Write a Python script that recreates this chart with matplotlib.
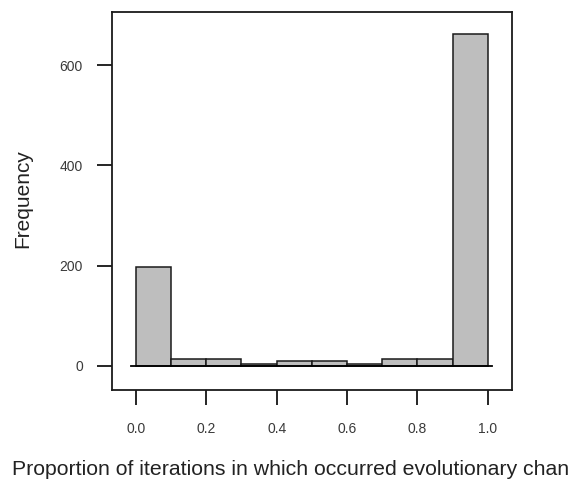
import numpy as np
import matplotlib.pyplot as plt

plt.rcParams['font.family'] = ['Liberation Sans', 'DejaVu Sans']

# histogram bins and counts
bin_edges = [0.0, 0.1, 0.2, 0.3, 0.4, 0.5, 0.6, 0.7, 0.8, 0.9, 1.0]
counts = [198, 13, 13, 4, 9, 9, 4, 13, 13, 662]
x_ticks = [0.0, 0.2, 0.4, 0.6, 0.8, 1.0]
x_tick_labels = ['0.0', '0.2', '0.4', '0.6', '0.8', '1.0']
y_ticks = [0, 200, 400, 600]

fig = plt.figure(figsize=(5.76, 4.86), dpi=100)
ax = fig.add_axes([112 / 576, 1 - 390 / 486, 400 / 576, 378 / 486])

lefts = np.array(bin_edges[:-1])
widths = np.diff(bin_edges)
ax.bar(lefts, counts, width=widths, align='edge', color='#bebebe',
       edgecolor='#1a1a1a', linewidth=1.1, zorder=2)
ax.plot([-0.013, 1.013], [0, 0], color='black', linewidth=1.3, zorder=3)

ax.set_xlim(-0.068, 1.069)
ax.set_ylim(-48, 706)

ax.set_xticks(x_ticks)
ax.set_xticklabels(x_tick_labels)
ax.set_yticks(y_ticks)
ax.tick_params(axis='both', direction='out', length=11, width=1.2,
               labelsize=10, labelcolor='#3a3a3a')
ax.tick_params(axis='x', pad=12)
ax.tick_params(axis='y', pad=10)

for sp in ax.spines.values():
    sp.set_linewidth(1.3)
    sp.set_color('#1a1a1a')

fig.text(23 / 576, 1 - 199 / 486, 'Frequency', rotation=90, ha='center',
         va='center', fontsize=15, color='#222222')
fig.text(12 / 576, 1 - 469 / 486,
         'Proportion of iterations in which occurred evolutionary chan',
         ha='left', va='center', fontsize=15.3, color='#222222')

fig.savefig('out.png', dpi=100)
